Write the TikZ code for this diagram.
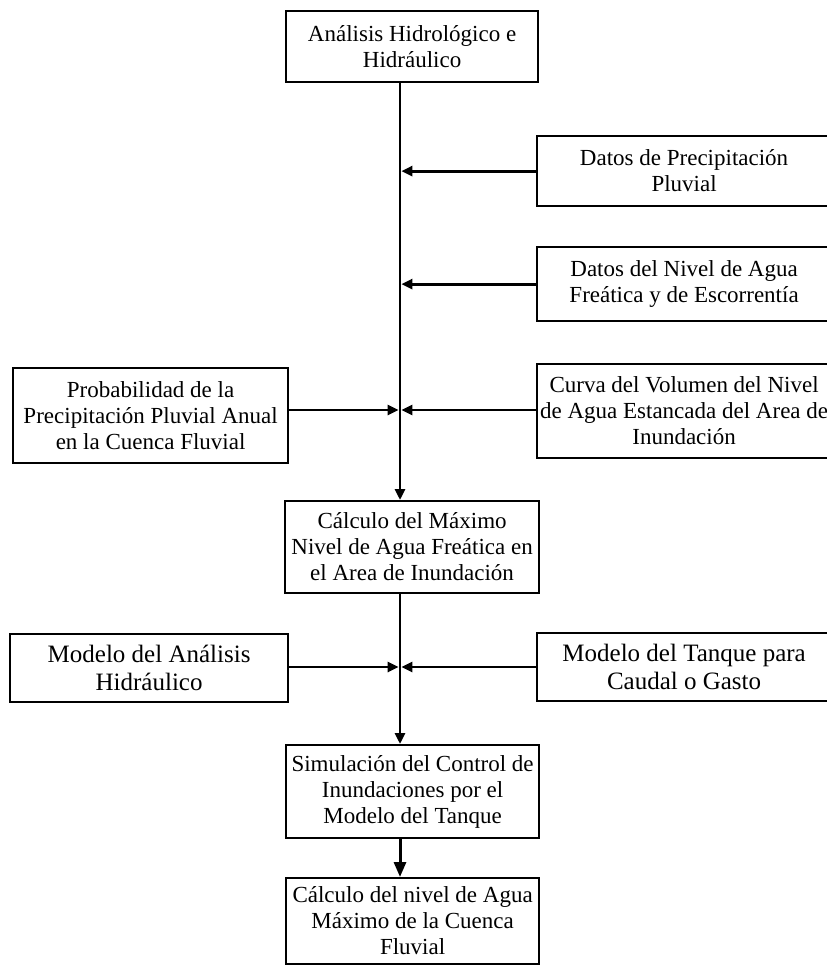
\documentclass[tikz,border=0pt]{standalone}
\usepackage{fontspec}
\setmainfont{Liberation Serif}
\usetikzlibrary{arrows.meta}
\begin{document}
\begin{tikzpicture}[x=1pt,y=-1pt,
  box/.style={draw, line width=2.2pt, inner sep=0pt, align=center,
    font=\fontsize{23}{26}\selectfont, anchor=north west},
  bigtext/.style={font=\fontsize{25}{28}\selectfont},
  conn/.style={line width=2.8pt, -{Triangle[length=11pt,width=10pt]}},
  bigconn/.style={line width=3pt, -{Triangle[length=15pt,width=12pt]}}]
\useasboundingbox (0,0) rectangle (827,967);

\node[box, minimum width=252pt, minimum height=71pt] (top) at (285,10)
  {Análisis Hidrológico e\\Hidráulico};
\node[box, minimum width=294pt, minimum height=70pt] (dp) at (536,135)
  {Datos de Precipitación\\Pluvial};
\node[box, minimum width=294pt, minimum height=74pt] (dn) at (536,246)
  {Datos del Nivel de Agua\\Freática y de Escorrentía};
\node[box, minimum width=275pt, minimum height=95pt] (prob) at (12,367)
  {Probabilidad de la\\Precipitación Pluvial Anual\\en la Cuenca Fluvial};
\node[box, minimum width=294pt, minimum height=94pt] (curva) at (536,363)
  {Curva del Volumen del Nivel\\de Agua Estancada del Area de\\Inundación};
\node[box, minimum width=254pt, minimum height=92pt] (calc) at (284,500)
  {Cálculo del Máximo\\Nivel de Agua Freática en\\el Area de Inundación};
\node[box, bigtext, minimum width=278pt, minimum height=68pt] (ma) at (9,633)
  {Modelo del Análisis\\Hidráulico};
\node[box, bigtext, minimum width=294pt, minimum height=68pt] (mt) at (536,632)
  {Modelo del Tanque para\\Caudal o Gasto};
\node[box, minimum width=253pt, minimum height=93pt] (sim) at (285,744)
  {Simulación del Control de\\Inundaciones por el\\Modelo del Tanque};
\node[box, minimum width=253pt, minimum height=86pt] (fin) at (285,877)
  {Cálculo del nivel de Agua\\Máximo de la Cuenca\\Fluvial};

\coordinate (sp) at (400,0);
\coordinate (j3) at (400,410);
\coordinate (j4) at (400,667);

\draw[conn] (top.south -| sp) -- (calc.north -| sp);
\draw[conn, shorten >=1.4pt] (dp.west) -- (dp.west -| sp);
\draw[conn, shorten >=1.4pt] (dn.west) -- (dn.west -| sp);
\draw[conn, shorten >=1.4pt] (prob.east |- j3) -- (j3);
\draw[conn, shorten >=1.4pt] (curva.west |- j3) -- (j3);
\draw[conn] (calc.south -| sp) -- (sim.north -| sp);
\draw[conn, shorten >=1.4pt] (ma.east |- j4) -- (j4);
\draw[conn, shorten >=1.4pt] (mt.west |- j4) -- (j4);
\draw[bigconn] (sim.south -| sp) -- (fin.north -| sp);
\end{tikzpicture}
\end{document}
